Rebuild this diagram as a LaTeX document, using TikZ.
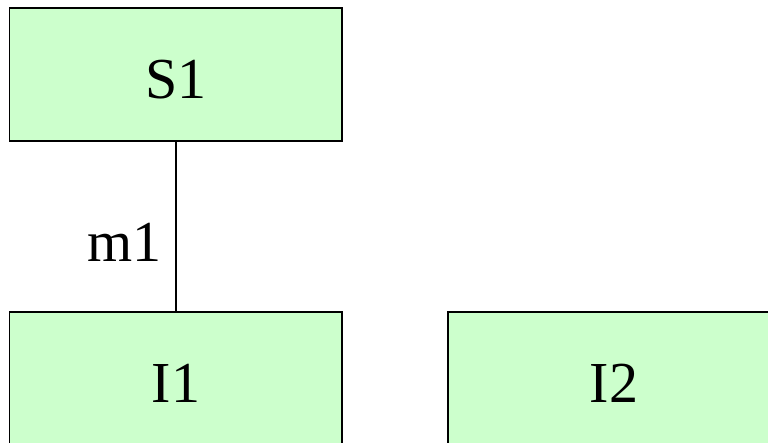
\documentclass[tikz,border=0pt]{standalone}
\usepackage{fontspec}
\setmainfont{Liberation Serif}
\definecolor{boxgreen}{HTML}{CCFFCC}
\tikzset{
  box/.style={draw=black, fill=boxgreen, line width=1.3pt},
  lbl/.style={font=\fontsize{58}{60}\selectfont, inner sep=0pt, anchor=base},
  conn/.style={draw=black, line width=1.3pt}
}
\begin{document}
\begin{tikzpicture}[x=1pt,y=-1pt]
\useasboundingbox (0,0) rectangle (768,442);
\path[box] (9.5,8) rectangle (342,141);
\path[box] (9.5,312) rectangle (342,460);
\path[box] (448,312) rectangle (790,460);
\node[lbl] (S1) at (176,98) {S1};
\node[lbl] (I1) at (176,402) {I1};
\node[lbl] (I2) at (614,402) {I2};
\coordinate (s1b) at (176,141);
\coordinate (i1t) at (176,312);
\draw[conn] (s1b) -- node[lbl, anchor=base east, yshift=-35pt, xshift=-14pt] (m1) {m1} (i1t);
\end{tikzpicture}
\end{document}
